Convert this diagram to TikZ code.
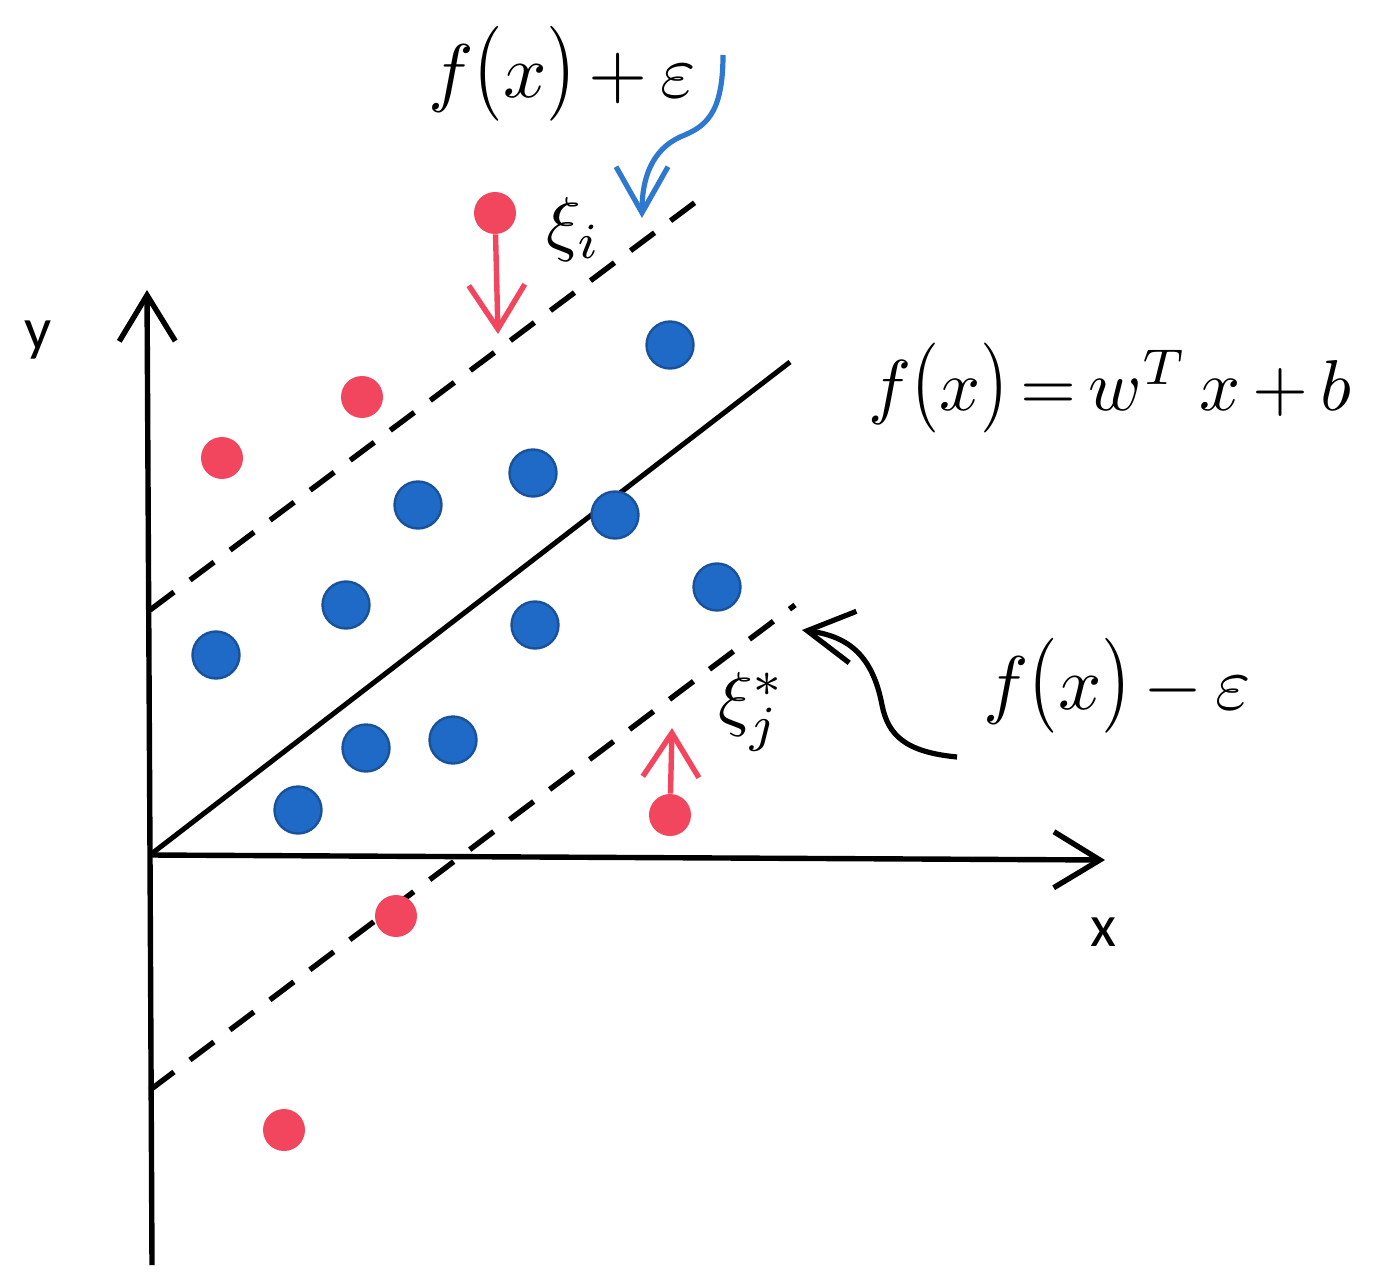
\documentclass[tikz,border=0pt]{standalone}
\usepackage{graphicx}
\usepackage{fontspec}
\newfontfamily\carlito{Carlito}
\usetikzlibrary{arrows.meta}
\definecolor{dotred}{HTML}{F2465E}
\definecolor{dotblue}{HTML}{1F6AC6}
\definecolor{dotblueedge}{HTML}{1A529A}
\definecolor{arrblue}{HTML}{2F78D0}
\newcommand{\tlp}{\mathopen{\scalebox{1}[1.25]{$($}}}
\newcommand{\trp}{\mathclose{\scalebox{1}[1.25]{$)$}}}
\tikzset{
  axis/.style={line width=2.7pt,-{Straight Barb[length=23pt,width=28pt,line width=2.7pt]}},
  reg/.style={line width=2.5pt},
  margin/.style={line width=2.7pt,dash pattern=on 15pt off 10pt},
  reddot/.style={circle,fill=dotred,minimum size=21pt,inner sep=0pt},
  bluedot/.style={circle,fill=dotblue,draw=dotblueedge,line width=1.2pt,minimum size=23.5pt,inner sep=0pt},
  redarrow/.style={draw=dotred,line width=2.7pt,-{Straight Barb[length=22pt,width=28pt,line width=2.7pt]}},
  callout/.style={line width=2.6pt,-{Straight Barb[length=23pt,width=26pt,line width=2.6pt]}},
  lbl/.style={inner sep=0pt},
}
\begin{document}
\begin{tikzpicture}[x=0.5pt,y=-0.5pt]
\useasboundingbox (0,0) rectangle (1379,1288);
% axes
\coordinate (o) at (150,855);
\coordinate (ybot) at (152,1265);
\coordinate (ytop) at (147,290);
\coordinate (xtip) at (1105,860);
\draw[line width=2.7pt] (ybot) -- (o);
\draw[axis] (o) -- (ytop);
\draw[axis] (o) -- (xtip);
\node[lbl,font=\carlito\fontsize{30}{30}\selectfont] (ylab) at (38,340) {y};
\node[lbl,font=\carlito\fontsize{30}{30}\selectfont] (xlab) at (1103,932) {x};
% regression line and margins
\coordinate (rend) at (790,362);
\draw[reg] (o) -- (rend);
\coordinate (ua) at (150,610);
\coordinate (ub) at (705,195);
\draw[margin] (ua) -- (ub);
\coordinate (la) at (150,1090);
\coordinate (lb) at (795,605);
\draw[margin] (la) -- (lb);
% red dots
\node[reddot] (r1) at (495,213) {};
\node[reddot] (r2) at (362,397) {};
\node[reddot] (r3) at (222,458) {};
\node[reddot] (r4) at (670,815) {};
\node[reddot] (r5) at (396,916) {};
\node[reddot] (r6) at (284,1130) {};
% blue dots
\foreach \n/\p in {b1/{(670,345)},b2/{(533,473)},b3/{(418,505)},b4/{(615,515)},b5/{(717,587)},b6/{(346,605)},b7/{(535,625)},b8/{(216,655)},b9/{(366,748)},b10/{(453,740)},b11/{(298,810)}}
  \node[bluedot] (\n) at \p {};
% slack arrows
\coordinate (r1t) at (498,334);
\draw[redarrow] (r1) -- (r1t);
\coordinate (r4t) at (672,728);
\draw[redarrow] (r4) -- (r4t);
\node[lbl,scale=3.6] (xii) at (574,230) {$\xi_i$};
\node[lbl,scale=3.6] (xij) at (752,712) {$\xi_j^{*}$};
% labels
\node[lbl,scale=3.8] (fplus) at (562,74) {$f\tlp x\trp\mkern3mu{+}\mkern3mu\varepsilon$};
\node[lbl,scale=3.6] (freg) at (1110,388) {$f\tlp x\trp\mkern3mu{=}\mkern3mu w^{T}\,x\mkern3mu{+}\mkern3mu b$};
\node[lbl,scale=3.8] (fminus) at (1117,686) {$f\tlp x\trp\mkern3mu{-}\mkern3mu\varepsilon$};
% callouts
\coordinate (bs) at (723,55);
\coordinate (bt) at (642,218);
\draw[callout,draw=arrblue] (bs) .. controls (723,115) and (705,127) .. (680,137) .. controls (652,150) and (642,178) .. (bt);
\coordinate (ks) at (957,757);
\coordinate (kt) at (802,630);
\draw[callout] (ks) .. controls (905,752) and (888,735) .. (882,705) .. controls (872,652) and (845,636) .. (kt);
\end{tikzpicture}
\end{document}
